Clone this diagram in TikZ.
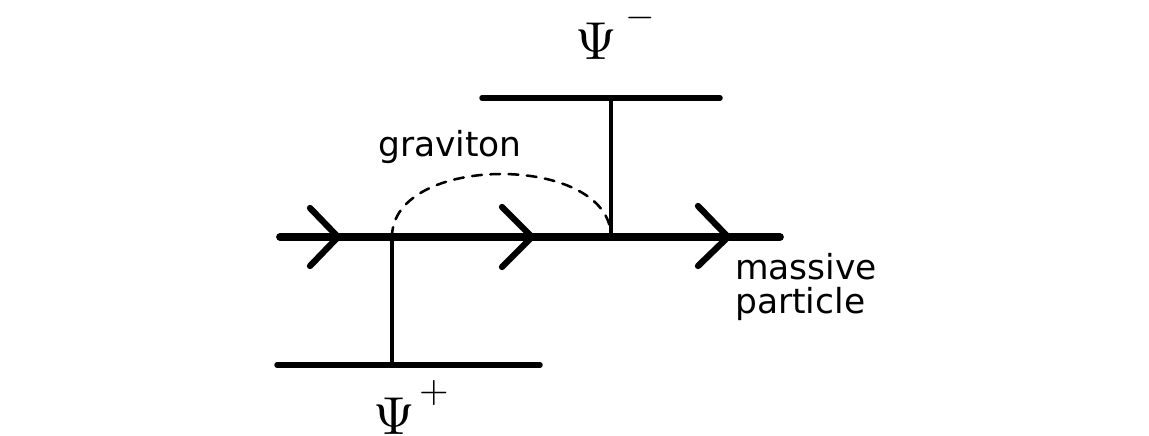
\documentclass[tikz,border=0pt]{standalone}
\usepackage{graphicx}
\usepackage[no-math]{fontspec}
\usepackage{tkz-euclide}
\newfontfamily\handfont{DejaVu Sans}
\newcommand{\BigPsi}{\scalebox{3.8}{$\Psi$}}
\newcommand{\PsiSign}[1]{\scalebox{2.7}{$#1$}}
\tikzset{
  hand/.style={font=\handfont\fontsize{24.5}{24.1}\selectfont,inner sep=0pt},
  bigpsi/.style={inner sep=0pt},
  psisign/.style={inner sep=0pt}
}

\begin{document}
\begin{tikzpicture}[x=.025cm,y=.025cm,line cap=round]
\useasboundingbox (0,0) rectangle (1149,435);
\tkzSetUpLine[line width=2.1pt,color=black]

% massive particle line and the two Psi lines
\tkzDefPoints{280/198/A,780/198/B,482/337/C,720/337/D,277/70/E,540/70/F}
% vertices
\tkzDefPoints{611/337/V,611/198/W,392/198/M,392/70/L}
% arrow heads
\tkzDefPoints{338/198/T1,310/227/T1a,310/169/T1b}
\tkzDefPoints{532/198/T2,502/228/T2a,502/168/T2b}
\tkzDefPoints{728/198/T3,698/229/T3a,698/169/T3b}

\tkzDrawSegments[line width=2.2pt](V,W M,L)
\tkzDrawSegments[line width=3.9pt](C,D E,F)
\tkzDrawSegments[line width=5.5pt](A,B)

\tkzDrawPolySeg[line width=4.5pt](T1a,T1,T1b)
\tkzDrawPolySeg[line width=4.5pt](T2a,T2,T2b)
\tkzDrawPolySeg[line width=4.5pt](T3a,T3,T3b)

% graviton
\draw[line width=1.8pt,dash pattern=on 7pt off 6pt]
  (M) .. controls +(0,84) and +(0,84) .. (W);

\node[hand,anchor=base] (grav) at (450,278) {graviton};
\node[hand,anchor=north west,align=left] (mass) at (735,182) {massive\\particle};

\node[bigpsi,anchor=base] (psiup) at (596,375) {\BigPsi};
\node[psisign] (psiupsign) at (640,417) {\PsiSign{-}};
\node[bigpsi,anchor=base] (psidown) at (394,1) {\BigPsi};
\node[psisign] (psidownsign) at (434,42) {\PsiSign{+}};

\end{tikzpicture}
\end{document}
